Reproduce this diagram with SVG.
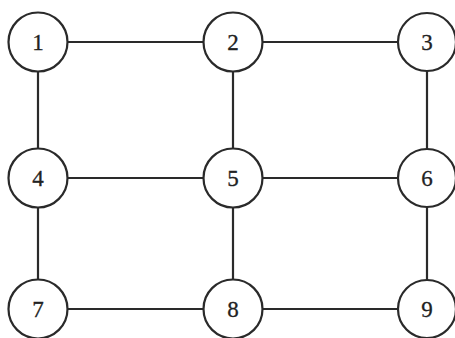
<svg xmlns="http://www.w3.org/2000/svg" width="455" height="338" viewBox="0 0 455 338">
<style>
.n circle{fill:#fff;stroke:#2a2a2a;stroke-width:2.2}
.n text{font-family:"Liberation Serif","DejaVu Serif",serif;font-size:23px;fill:#222;stroke:#222;stroke-width:0.3;text-anchor:middle;dominant-baseline:central}
.e line{stroke:#2a2a2a;stroke-width:2.2}
</style>
<rect width="455" height="338" fill="#fff"/>
<g id="edges" class="e">
<line x1="38" y1="42" x2="233" y2="42"/>
<line x1="233" y1="42" x2="427" y2="42"/>
<line x1="38" y1="178" x2="233" y2="178"/>
<line x1="233" y1="178" x2="427" y2="178"/>
<line x1="38" y1="309" x2="233" y2="309"/>
<line x1="233" y1="309" x2="427" y2="309"/>
<line x1="38" y1="42" x2="38" y2="309"/>
<line x1="233" y1="42" x2="233" y2="309"/>
<line x1="427" y1="42" x2="427" y2="309"/>
</g>
<g id="n1" class="n"><circle cx="38" cy="42" r="29.5"/><text x="38" y="42">1</text></g>
<g id="n2" class="n"><circle cx="233" cy="42" r="29.5"/><text x="233" y="42">2</text></g>
<g id="n3" class="n"><circle cx="427" cy="42" r="29"/><text x="427" y="42">3</text></g>
<g id="n4" class="n"><circle cx="38" cy="178" r="29.5"/><text x="38" y="178">4</text></g>
<g id="n5" class="n"><circle cx="233" cy="178" r="29.5"/><text x="233" y="178">5</text></g>
<g id="n6" class="n"><circle cx="427" cy="178" r="29"/><text x="427" y="178">6</text></g>
<g id="n7" class="n"><circle cx="38" cy="309" r="29.5"/><text x="38" y="309">7</text></g>
<g id="n8" class="n"><circle cx="233" cy="309" r="29.5"/><text x="233" y="309">8</text></g>
<g id="n9" class="n"><circle cx="427" cy="309" r="29"/><text x="427" y="309">9</text></g>
</svg>
